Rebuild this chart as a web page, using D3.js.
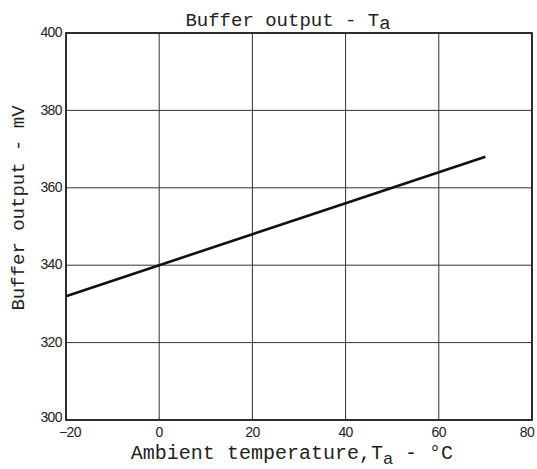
<!DOCTYPE html>
<html>
<head>
<meta charset="utf-8">
<script src="https://cdn.jsdelivr.net/npm/d3@7"></script>
<style>
  body { margin: 0; background: #fff; }
  text { fill: #222; }
</style>
</head>
<body>
<div id="chart"></div>
<script>
// values
const temps = [-20, 0, 20, 40, 60, 70]
const bufferOut = [332, 340, 348, 356, 364, 368]
const xTicks = [-20, 0, 20, 40, 60, 80]
const yTicks = [300, 320, 340, 360, 380, 400]

var width = 537,
    height = 469
var margin = {top: 33, right: 5, bottom: 49, left: 66}

var svg = d3.select('#chart')
  .append('svg')
    .attr('width', width)
    .attr('height', height)

var x = d3.scaleLinear()
  .domain([-20, 80])
  .range([margin.left, width - margin.right])
var y = d3.scaleLinear()
  .domain([300, 400])
  .range([height - margin.bottom, margin.top])

// grid lines
svg.append('g')
  .selectAll('line')
  .data(xTicks)
  .enter()
  .append('line')
  .attr('x1', d => x(d)).attr('x2', d => x(d))
  .attr('y1', y(300)).attr('y2', y(400))
  .attr('stroke', '#333')
  .attr('stroke-width', 1)

svg.append('g')
  .selectAll('line')
  .data(yTicks)
  .enter()
  .append('line')
  .attr('x1', x(-20)).attr('x2', x(80))
  .attr('y1', d => y(d)).attr('y2', d => y(d))
  .attr('stroke', '#333')
  .attr('stroke-width', 1)

// frame
svg.append('rect')
  .attr('x', x(-20))
  .attr('y', y(400))
  .attr('width', x(80) - x(-20))
  .attr('height', y(300) - y(400))
  .attr('fill', 'none')
  .attr('stroke', '#222')
  .attr('stroke-width', 1.8)

// tick labels
svg.append('g')
  .selectAll('text')
  .data(yTicks)
  .enter()
  .append('text')
  .attr('x', x(-20) - 4)
  .attr('y', d => y(d))
  .attr('dy', d => d === 300 ? '0.15em' : '0.3em')
  .attr('text-anchor', 'end')
  .style('font-family', 'Liberation Sans, Arial, sans-serif')
  .style('font-size', '14px')
  .style('letter-spacing', '-0.6px')
  .text(d => d)

svg.append('g')
  .selectAll('text')
  .data(xTicks)
  .enter()
  .append('text')
  .attr('x', d => x(d))
  .attr('dx', d => d === -20 ? 4 : d === 80 ? -5 : 0)
  .attr('y', y(300) + 17)
  .attr('text-anchor', 'middle')
  .style('font-family', 'Liberation Sans, Arial, sans-serif')
  .style('font-size', '14px')
  .style('letter-spacing', '-0.6px')
  .text(d => d < 0 ? '\u2212' + Math.abs(d) : d)

// data line
var line = d3.line()
  .x((d, i) => x(temps[i]))
  .y(d => y(d))

svg.append('path')
  .datum(bufferOut)
  .attr('d', line)
  .attr('fill', 'none')
  .attr('stroke', '#111')
  .attr('stroke-width', 2.6)

// titles
var mono = 'Liberation Mono, Courier New, monospace'

var title = svg.append('text')
  .attr('x', 288)
  .attr('y', 26)
  .attr('text-anchor', 'middle')
  .style('font-family', mono)
  .style('font-size', '19px')
title.append('tspan').text('Buffer output - T')
title.append('tspan').attr('dy', 3).text('a')

var xTitle = svg.append('text')
  .attr('x', 292)
  .attr('y', 459)
  .attr('text-anchor', 'middle')
  .style('font-family', mono)
  .style('font-size', '20px')
xTitle.append('tspan').text('Ambient temperature,T')
xTitle.append('tspan').attr('dy', 5).style('font-size', '17px').text('a')
xTitle.append('tspan').attr('dy', -5).text(' - \u00b0C')

svg.append('text')
  .attr('transform', 'translate(24,208) rotate(-90)')
  .attr('text-anchor', 'middle')
  .style('font-family', mono)
  .style('font-size', '19px')
  .text('Buffer output - mV')
</script>
</body>
</html>
